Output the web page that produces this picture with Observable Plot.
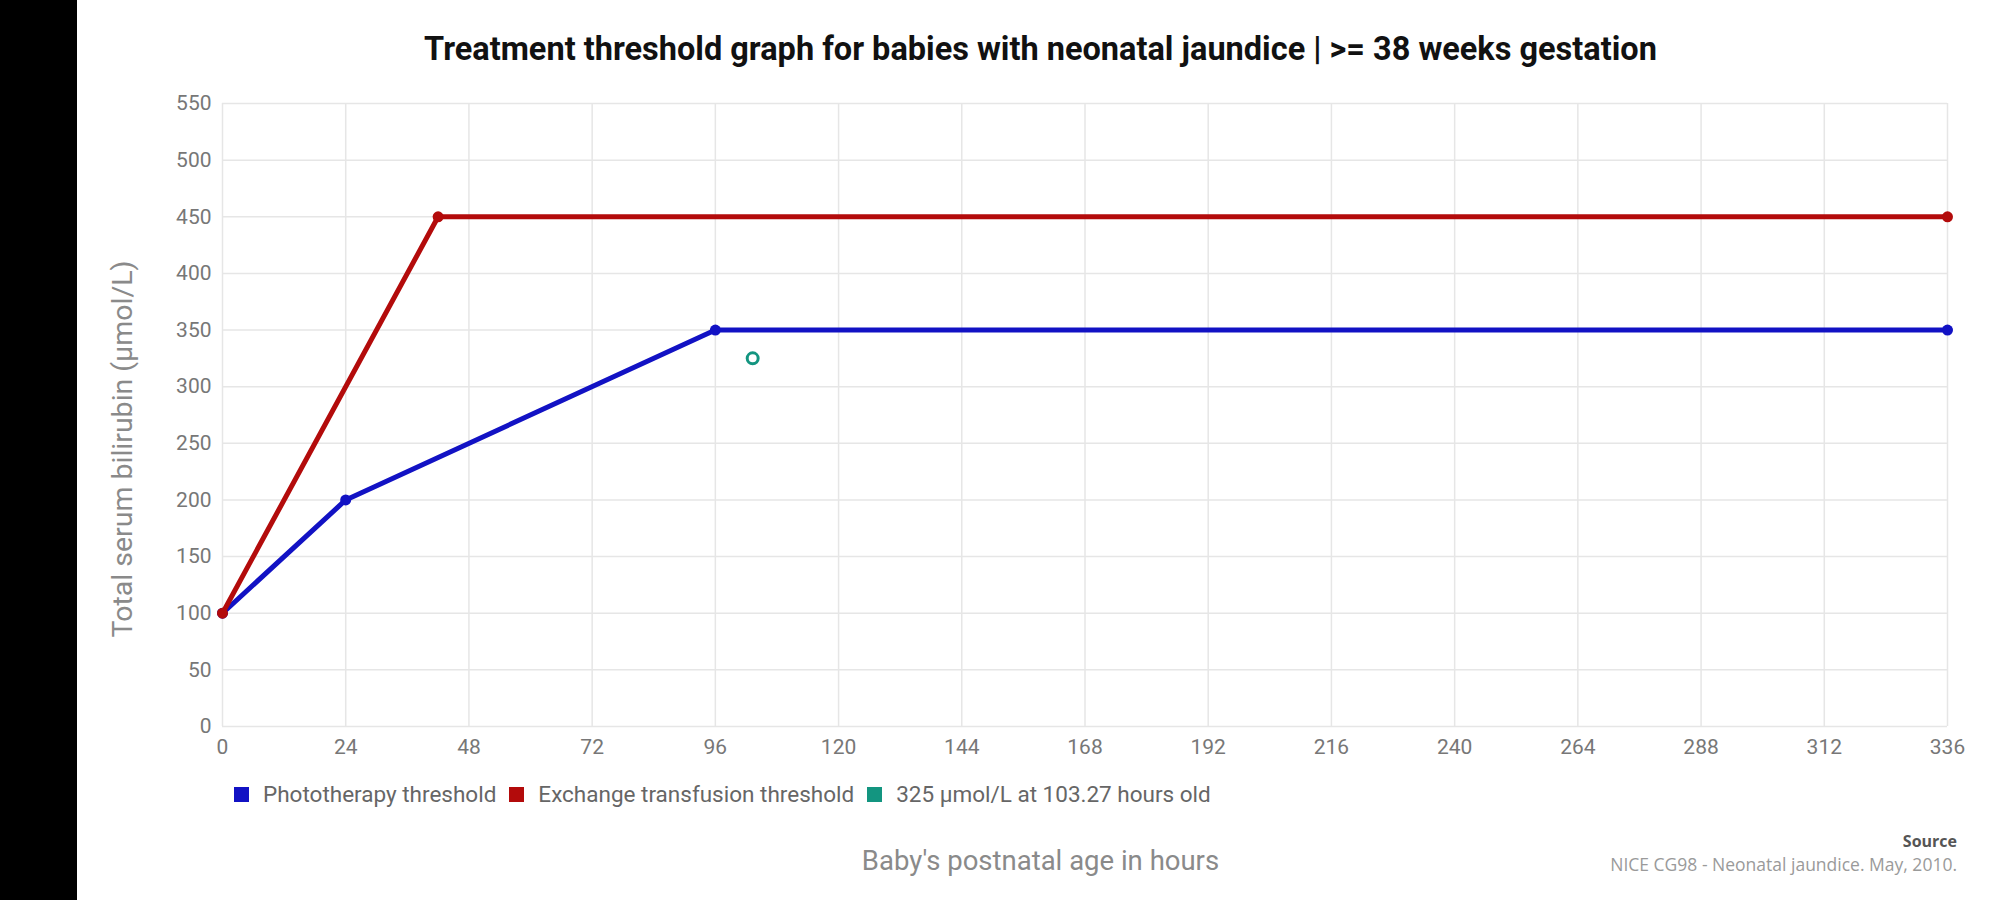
<!DOCTYPE html>
<html>
<head>
<meta charset="utf-8">
<script src="https://cdn.jsdelivr.net/npm/d3@7"></script>
<script src="https://cdn.jsdelivr.net/npm/@observablehq/plot@0.6"></script>
<style>
  html, body { margin: 0; padding: 0; background: #fff; width: 2003px; height: 900px; overflow: hidden; }
  #band { position: absolute; left: 0; top: 0; width: 77px; height: 900px; background: #000; }
  #title { position: absolute; left: 78px; width: 1925px; top: 29px; text-align: center;
           font-family: Roboto, sans-serif; font-weight: bold; font-size: 32.5px; color: #111; line-height: 40px; }
  #chart { position: absolute; left: 78px; top: 80px; }
  #ylabel { position: absolute; left: 122px; top: 449px; transform: translate(-50%, -50%) rotate(-90deg);
            font-family: Roboto, sans-serif; font-size: 28.5px; color: #8a8a8a; white-space: nowrap; }
  #legend { position: absolute; left: 234px; top: 781px; display: flex; align-items: center;
            font-family: Roboto, sans-serif; font-size: 22.5px; color: #666; white-space: nowrap; }
  #legend .sw { width: 15px; height: 15px; display: inline-block; margin-right: 14px; }
  #legend .item { display: flex; align-items: center; margin-right: 13px; }
  #xlabel { position: absolute; left: 78px; width: 1925px; top: 844px; text-align: center;
            font-family: Roboto, sans-serif; font-size: 27.5px; color: #8a8a8a; }
  #source { position: absolute; right: 46px; top: 829px; text-align: right; font-family: "Open Sans", sans-serif; }
  #source .h { font-size: 16px; font-weight: bold; color: #555; line-height: 24px; }
  #source .t { font-size: 17.5px; color: #9a9a9a; line-height: 22px; }
</style>
</head>
<body>
<div id="band"></div>
<div id="title">Treatment threshold graph for babies with neonatal jaundice | &gt;= 38 weeks gestation</div>
<div id="chart"></div>
<div id="ylabel">Total serum bilirubin (µmol/L)</div>
<div id="legend"></div>
<div id="xlabel">Baby's postnatal age in hours</div>
<div id="source"><div class="h">Source</div><div class="t">NICE CG98 - Neonatal jaundice. May, 2010.</div></div>
<script>
// Data
const seriesNames = ["Phototherapy threshold", "Exchange transfusion threshold", "325 µmol/L at 103.27 hours old"];
const seriesColors = ["#1212c4", "#b30b0b", "#139580"];
const photoHours = [0, 24, 96, 336];
const photoValues = [100, 200, 350, 350];
const exchangeHours = [0, 42, 336];
const exchangeValues = [100, 450, 450];
const patientHours = [103.27];
const patientValues = [325];
const xTicks = [0, 24, 48, 72, 96, 120, 144, 168, 192, 216, 240, 264, 288, 312, 336];
const yTicks = [0, 50, 100, 150, 200, 250, 300, 350, 400, 450, 500, 550];

const photo = photoHours.map((h, i) => ({h, v: photoValues[i]}));
const exchange = exchangeHours.map((h, i) => ({h, v: exchangeValues[i]}));
const patient = patientHours.map((h, i) => ({h, v: patientValues[i]}));

const chart = Plot.plot({
  width: 1925,
  height: 700,
  marginTop: 23,
  marginBottom: 54,
  marginLeft: 144,
  marginRight: 56,
  style: {fontFamily: "Roboto, sans-serif", background: "transparent"},
  x: {domain: [0, 336]},
  y: {domain: [0, 550]},
  marks: [
    Plot.gridX(xTicks, {stroke: "#e6e6e6", strokeOpacity: 1, strokeWidth: 1.5}),
    Plot.gridY(yTicks, {stroke: "#e6e6e6", strokeOpacity: 1, strokeWidth: 1.5}),
    Plot.axisX(xTicks, {tickSize: 0, tickPadding: 13, fontSize: 21, fill: "#777", label: null}),
    Plot.axisY(yTicks, {tickSize: 0, tickPadding: 11, fontSize: 21, fill: "#777", label: null}),
    Plot.line(photo, {x: "h", y: "v", stroke: seriesColors[0], strokeWidth: 5}),
    Plot.dot(photo, {x: "h", y: "v", fill: seriesColors[0], r: 5.5}),
    Plot.line(exchange, {x: "h", y: "v", stroke: seriesColors[1], strokeWidth: 5}),
    Plot.dot(exchange, {x: "h", y: "v", fill: seriesColors[1], r: 5.5}),
    Plot.dot(patient, {x: "h", y: "v", stroke: seriesColors[2], fill: "white", strokeWidth: 3, r: 5.5})
  ]
});
document.getElementById("chart").appendChild(chart);

const legend = document.getElementById("legend");
seriesNames.forEach((name, i) => {
  const item = document.createElement("div");
  item.className = "item";
  const sw = document.createElement("span");
  sw.className = "sw";
  sw.style.background = seriesColors[i];
  const t = document.createElement("span");
  t.textContent = name;
  item.appendChild(sw);
  item.appendChild(t);
  legend.appendChild(item);
});
</script>
</body>
</html>
